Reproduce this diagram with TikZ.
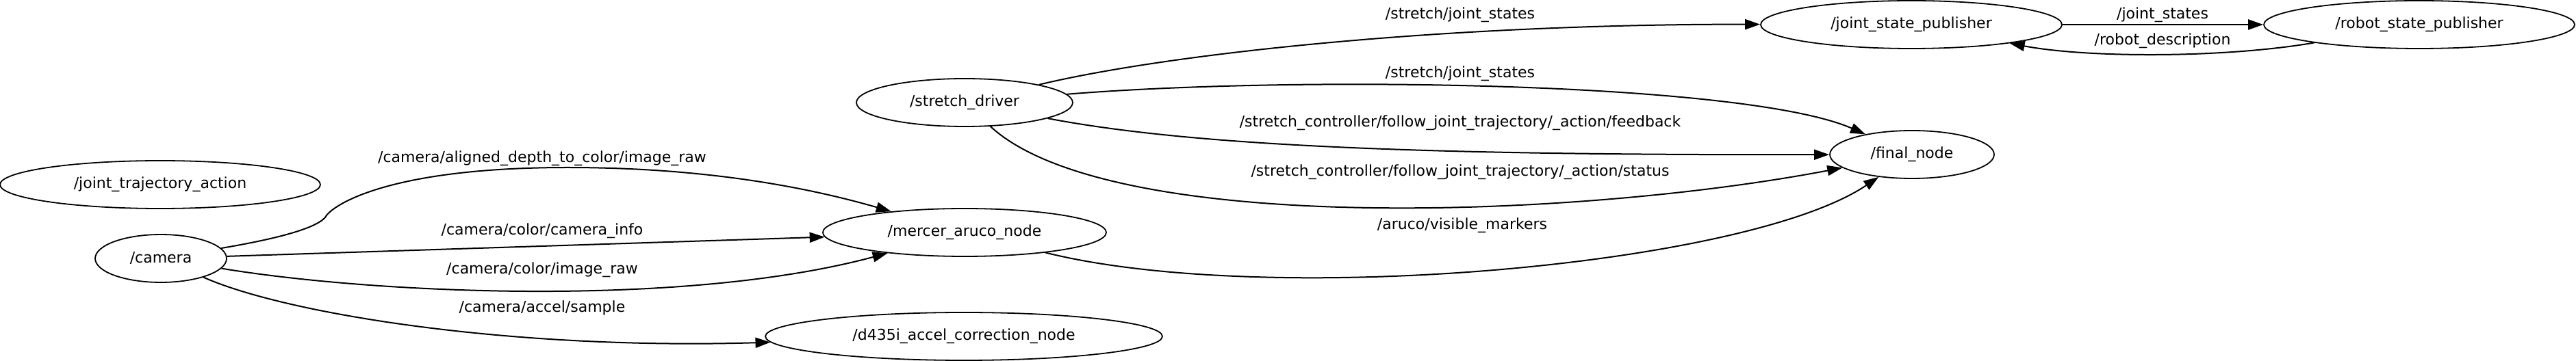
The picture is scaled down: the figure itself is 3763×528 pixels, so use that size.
\documentclass[tikz,border=0pt]{standalone}
\usepackage{fontspec}
\setmainfont{DejaVu Sans}
\usepackage{tikz}
\usetikzlibrary{shapes.geometric}
\usetikzlibrary{arrows.meta}

\begin{document}
\begin{tikzpicture}[
  x=0.5pt, y=-0.5pt,
  >={Triangle[length=11pt,width=7.5pt]},
  rosnode/.style={
      draw,
      ellipse,
      line width=0.9pt,
      inner sep=0pt,
      minimum height=35pt,
      font=\fontsize{11}{13}\selectfont
  },
  topic/.style={
      inner sep=1pt,
      font=\fontsize{11}{13}\selectfont
  },
  edge/.style={->, line width=1pt}
]
\useasboundingbox (0,0) rectangle (3763,528);

\node[rosnode, minimum width=234pt] (jta) at (234,270) {/joint\_trajectory\_action};
\node[rosnode, minimum width=96pt] (cam) at (235,378) {/camera};
\node[rosnode, minimum width=207pt] (mercer) at (1409,340) {/mercer\_aruco\_node};
\node[rosnode, minimum width=290pt] (d435) at (1408,492) {/d435i\_accel\_correction\_node};
\node[rosnode, minimum width=158pt] (driver) at (1409,150) {/stretch\_driver};
\node[rosnode, minimum width=220pt] (jsp) at (2792,36) {/joint\_state\_publisher};
\node[rosnode, minimum width=227pt] (rsp) at (3534,36) {/robot\_state\_publisher};
\node[rosnode, minimum width=120pt] (final) at (2793,226) {/final\_node};

% camera topics
\node[topic] (t1) at (792,232) {/camera/aligned\_depth\_to\_color/image\_raw};
\node[topic] (t2) at (792,338) {/camera/color/camera\_info};
\node[topic] (t3) at (792,395) {/camera/color/image\_raw};
\node[topic] (t4) at (792,450) {/camera/accel/sample};

% stretch_driver topics
\node[topic] (t5) at (2133,22) {/stretch/joint\_states};
\node[topic] (t6) at (2133,108) {/stretch/joint\_states};
\node[topic] (t7) at (2133,180) {/stretch\_controller/follow\_joint\_trajectory/\_action/feedback};
\node[topic] (t8) at (2133,252) {/stretch\_controller/follow\_joint\_trajectory/\_action/status};
\node[topic] (t9) at (2136,330) {/aruco/visible\_markers};

\node[topic] (t10) at (3159,22) {/joint\_states};
\node[topic] (t11) at (3159,60) {/robot\_description};

\draw[edge] (cam) .. controls (400,350) and (460,335) .. (475,318)
  .. controls (482,303) and (560,245) .. (829,245)
  .. controls (1050,245) and (1200,280) .. (mercer);
\draw[edge] (cam) -- (mercer);
\draw[edge] (cam) .. controls (550,430) and (1000,450) .. (mercer);
\draw[edge] (cam) .. controls (420,460) and (750,512) .. (d435);

\draw[edge] (driver) .. controls (1700,80) and (2100,35) .. (jsp);
\draw[edge] (driver) .. controls (1900,110) and (2550,120) .. (final);
\draw[edge] (driver) .. controls (1750,215) and (2100,227) .. (final);
\draw[edge] (driver) .. controls (1620,345) and (2300,320) .. (final);
\draw[edge] (mercer) .. controls (1850,450) and (2550,390) .. (final);

\draw[edge] (jsp) -- (rsp);
\draw[edge] (rsp) .. controls (3250,85) and (3050,85) .. (jsp);

\end{tikzpicture}
\end{document}
